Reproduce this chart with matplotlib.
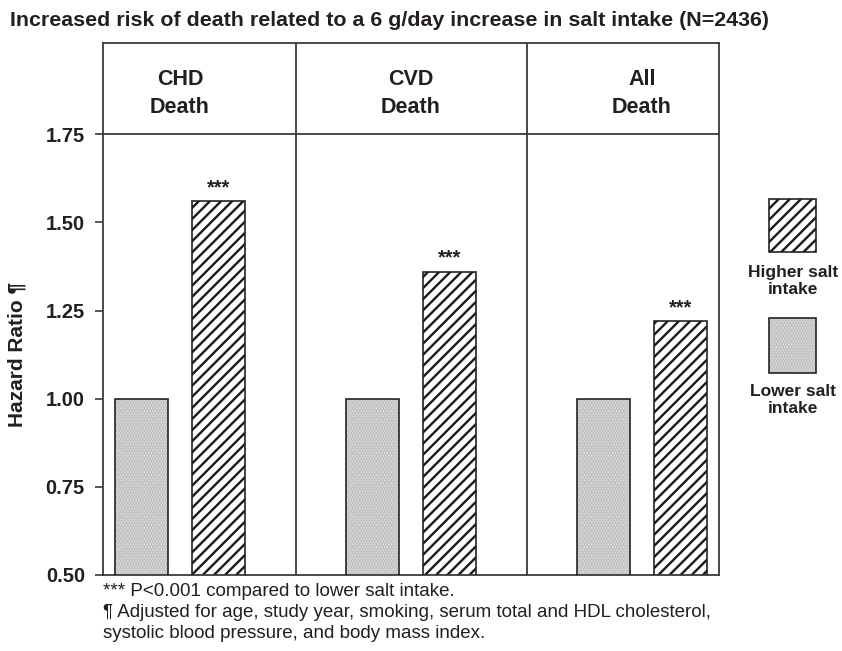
import matplotlib
matplotlib.use("Agg")
import matplotlib.pyplot as plt
from matplotlib.patches import Rectangle
import numpy as np

# ---------- DATA ----------
categories = ["CHD\nDeath", "CVD\nDeath", "All\nDeath"]
lower_salt = [1.00, 1.00, 1.00]
higher_salt = [1.56, 1.36, 1.22]
sig_marks = ["***", "***", "***"]
y_ticks = [0.50, 0.75, 1.00, 1.25, 1.50, 1.75]
series_names = ["Higher salt\nintake", "Lower salt\nintake"]

TITLE = "Increased risk of death related to a 6 g/day increase in salt intake (N=2436)"
NOTES = ("*** P<0.001 compared to lower salt intake.\n"
         "\u00b6 Adjusted for age, study year, smoking, serum total and HDL cholesterol,\n"
         "systolic blood pressure, and body mass index.")

# ---------- STYLE ----------
plt.rcParams["font.family"] = ["Liberation Sans", "DejaVu Sans"]
plt.rcParams["hatch.linewidth"] = 1.7
TXT = "#231f20"
LINE = "#3a3a3a"
DOT_FACE = "#ebebeb"
DOT_COLOR = "#b4b4b4"

fig = plt.figure(figsize=(8.42, 6.51), dpi=100)
ax = fig.add_axes([103 / 842, 1 - 575 / 651, 616 / 842, (575 - 42.7) / 651])

x = np.arange(len(categories)) * 3
w = 0.68

# lower salt: stippled grey
ax.bar(x, lower_salt, w, bottom=0, color=DOT_FACE, edgecolor=DOT_COLOR,
       hatch="......", linewidth=0, zorder=2)
ax.bar(x, lower_salt, w, bottom=0, facecolor="none", edgecolor="#222222",
       linewidth=1.2, zorder=3)
# higher salt: diagonal stripes
ax.bar(x + 1, higher_salt, w, bottom=0, color="white", edgecolor="#1a1a1a",
       hatch="///", linewidth=0, zorder=2)
ax.bar(x + 1, higher_salt, w, bottom=0, facecolor="none", edgecolor="#222222",
       linewidth=1.2, zorder=3)

for xi, v, s in zip(x + 1, higher_salt, sig_marks):
    ax.annotate(s, (xi, v), xytext=(0, 3), textcoords="offset points",
                ha="center", va="bottom", fontsize=14.5, fontweight="bold", color=TXT)

ax.set_xlim(-0.5, x[-1] + 1.5)
ax.set_ylim(0.5, 2.01)
ax.set_yticks(y_ticks)
ax.set_yticklabels([f"{t:.2f}" for t in y_ticks], fontsize=14.5, fontweight="bold", color=TXT)
ax.set_xticks([])
ax.tick_params(axis="y", length=6, width=1.2, color=LINE, pad=7)
for sp in ax.spines.values():
    sp.set_color(LINE)
    sp.set_linewidth(1.3)

# header row and panel dividers
ax.axhline(y_ticks[-1], color=LINE, lw=1.3, zorder=1)
for xi in x[1:]:
    ax.axvline(xi - 1, color=LINE, lw=1.3, zorder=1)

header_y = 1.866
for xi, c in zip(x, categories):
    ax.text(xi + 0.5, header_y, c, ha="center", va="center", fontsize=15.5,
            fontweight="bold", color=TXT, linespacing=1.4)

ax.set_ylabel("Hazard Ratio \u00b6", fontsize=15, fontweight="bold", color=TXT)
ax.yaxis.set_label_coords(-76 / 616, (575 - 354.5) / (575 - 42.7))

fig.text(10 / 842, 1 - 20 / 651, TITLE, ha="left", va="center", fontsize=15.4,
         fontweight="bold", color=TXT)
fig.text(103 / 842, 1 - 583 / 651, NOTES, ha="left", va="top", fontsize=13.5,
         color=TXT, linespacing=1.3)

# legend on the right
tr = fig.transFigure
def fig_box(x0, y0, x1, y1):
    return (x0 / 842, 1 - y1 / 651), (x1 - x0) / 842, (y1 - y0) / 651

xy, bw, bh = fig_box(769, 199, 816, 252)
fig.patches.append(Rectangle(xy, bw, bh, transform=tr, facecolor="white",
                             edgecolor="#1a1a1a", hatch="///", linewidth=0))
fig.patches.append(Rectangle(xy, bw, bh, transform=tr, facecolor="none",
                             edgecolor="#222222", linewidth=1.2))
xy, bw, bh = fig_box(769, 318, 816, 373)
fig.patches.append(Rectangle(xy, bw, bh, transform=tr, facecolor=DOT_FACE,
                             edgecolor=DOT_COLOR, hatch="......", linewidth=0))
fig.patches.append(Rectangle(xy, bw, bh, transform=tr, facecolor="none",
                             edgecolor="#222222", linewidth=1.2))

fig.text(793 / 842, 1 - 281 / 651, series_names[0], ha="center", va="center",
         fontsize=12.5, fontweight="bold", color=TXT, linespacing=1.1)
fig.text(793 / 842, 1 - 400 / 651, series_names[1], ha="center", va="center",
         fontsize=12.5, fontweight="bold", color=TXT, linespacing=1.1)

fig.savefig("out.png", dpi=100, facecolor="white")
